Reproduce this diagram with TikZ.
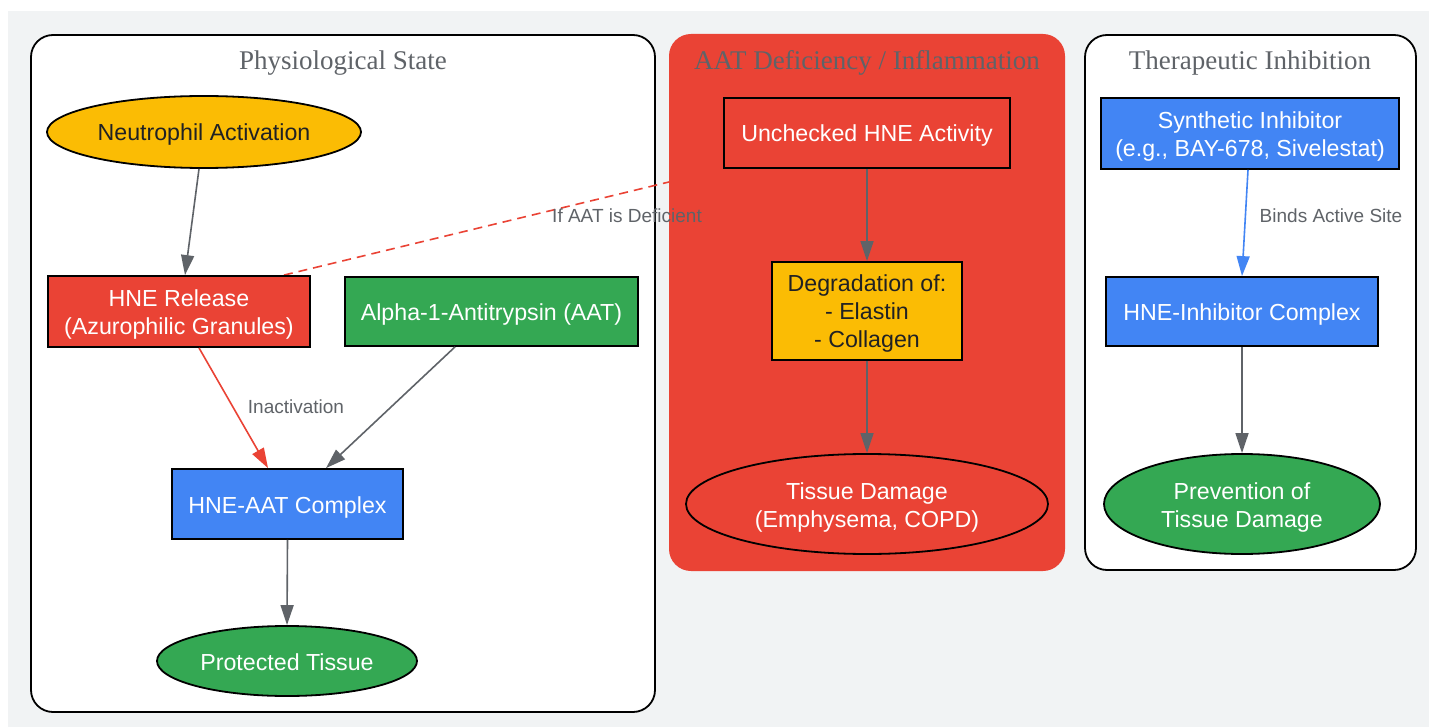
\documentclass[tikz,border=0pt]{standalone}
\usepackage{fontspec}
\setmainfont{Liberation Serif}
\newfontfamily\arialf{Liberation Sans}
\usetikzlibrary{shapes.geometric,arrows.meta}
\definecolor{gbg}{HTML}{F1F3F4}
\definecolor{gred}{HTML}{EA4335}
\definecolor{ggreen}{HTML}{34A853}
\definecolor{gblue}{HTML}{4285F4}
\definecolor{gyellow}{HTML}{FBBC04}
\definecolor{ggray}{HTML}{5F6368}
\definecolor{gdark}{HTML}{202124}
\newcommand\mynodefont{\arialf\fontsize{23.2}{28}\selectfont}
\pgfdeclarelayer{bg}\pgfdeclarelayer{edgebg}\pgfdeclarelayer{clus}
\pgfsetlayers{bg,edgebg,clus,main}
\begin{document}
\begin{tikzpicture}[x=1pt,y=-1pt,
 box/.style={draw=black,line width=1.8pt,rectangle,inner sep=0pt},
 oval/.style={draw=black,line width=1.8pt,ellipse,inner sep=0pt},
 txt/.style={inner sep=0pt,align=center,font=\mynodefont},
 conn/.style={line width=1.6pt,-{Triangle[length=20pt,width=13pt]}},
 elabel/.style={text=ggray,font=\arialf\fontsize{19}{22}\selectfont},
 ctitle/.style={text=ggray,font=\fontsize{27}{32}\selectfont},
 cluster/.style={rounded corners=22pt,line width=1.8pt}]
\useasboundingbox (0,0) rectangle (1429,727);
\begin{pgfonlayer}{bg}
\fill[white] (0,0) rectangle (1429,727);
\fill[gbg] (8,11) rectangle (1429,727);
\draw[cluster,fill=white] (31,35) rectangle (655,712);
\draw[cluster,fill=white] (1085,35) rectangle (1416,570);
\end{pgfonlayer}
\begin{pgfonlayer}{clus}
\fill[gred,rounded corners=22pt] (669,34) rectangle (1065,571);
\end{pgfonlayer}
% titles
\node[ctitle] (t1) at (343,63) {Physiological State};
\node[ctitle] (t2) at (867,63) {AAT Deficiency / Inflammation};
\node[ctitle] (t3) at (1250,63) {Therapeutic Inhibition};
% node shapes
\node[oval,fill=gyellow,minimum width=314pt,minimum height=72pt] (neut) at (204,132) {};
\node[box,fill=gred,minimum width=262pt,minimum height=71pt] (hne) at (179,311.5) {};
\node[box,fill=ggreen,minimum width=293pt,minimum height=69pt] (aat) at (491.5,311.5) {};
\node[box,fill=gblue,minimum width=231pt,minimum height=70pt] (cplx) at (287.5,504) {};
\node[oval,fill=ggreen,minimum width=260pt,minimum height=70pt] (prot) at (287,661) {};
\node[box,fill=gred,minimum width=286pt,minimum height=70pt] (unch) at (867,133) {};
\node[box,fill=gyellow,minimum width=190pt,minimum height=98pt] (degr) at (867,311) {};
\node[oval,fill=gred,minimum width=362pt,minimum height=100pt] (dmg) at (867,504) {};
\node[box,fill=gblue,minimum width=298pt,minimum height=71pt] (syn) at (1250,133.5) {};
\node[box,fill=gblue,minimum width=272pt,minimum height=69pt] (hic) at (1242,311.5) {};
\node[oval,fill=ggreen,minimum width=276pt,minimum height=100pt] (prev) at (1242,504) {};
% node texts
\node[txt,text=gdark] (neutT) at ([yshift=-3pt]neut.center) {Neutrophil Activation};
\node[txt,text=white] (hneT) at ([yshift=-3pt]hne.center) {HNE Release\\(Azurophilic Granules)};
\node[txt,text=white] (aatT) at ([yshift=-3pt]aat.center) {Alpha-1-Antitrypsin (AAT)};
\node[txt,text=white] (cplxT) at ([yshift=-3pt]cplx.center) {HNE-AAT Complex};
\node[txt,text=white] (protT) at ([yshift=-3pt]prot.center) {Protected Tissue\vphantom{y}};
\node[txt,text=white] (unchT) at ([yshift=-3pt]unch.center) {Unchecked HNE Activity};
\node[txt,text=gdark] (degrT) at ([yshift=-3pt]degr.center) {Degradation of:\\- Elastin\\- Collagen};
\node[txt,text=white] (dmgT) at ([yshift=-3pt]dmg.center) {Tissue Damage\\(Emphysema, COPD)};
\node[txt,text=white] (synT) at ([yshift=-3pt]syn.center) {Synthetic Inhibitor\\(e.g., BAY-678, Sivelestat)};
\node[txt,text=white] (hicT) at ([yshift=-3pt]hic.center) {HNE-Inhibitor Complex};
\node[txt,text=white] (prevT) at ([yshift=-3pt]prev.center) {Prevention of\\Tissue Damage};
% edges
\begin{pgfonlayer}{edgebg}
\draw[conn,gred,dashed,dash pattern=on 9pt off 6pt] ([xshift=-27pt]hne.north east) -- (unch.south west);
\end{pgfonlayer}
\draw[conn,ggray] ([xshift=-5pt]neut.south) -- ([xshift=6pt]hne.north);
\draw[conn,gred] ([xshift=20pt]hne.south) -- ([xshift=-19.5pt]cplx.north);
\draw[conn,ggray] ([xshift=-36.5pt]aat.south) -- ([xshift=38.5pt]cplx.north);
\draw[conn,ggray] (cplx.south) -- (prot.north);
\draw[conn,ggray] (unch.south) -- (degr.north);
\draw[conn,ggray] (degr.south) -- (dmg.north);
\draw[conn,gblue] ([xshift=-2pt]syn.south) -- (hic.north);
\draw[conn,ggray] (hic.south) -- (prev.north);
% edge labels
\node[elabel] (l1) at (296,407) {Inactivation};
\node[elabel] (l2) at (627,216) {If AAT is Deficient};
\node[elabel] (l3) at (1331,216) {Binds Active Site};
\end{tikzpicture}
\end{document}
